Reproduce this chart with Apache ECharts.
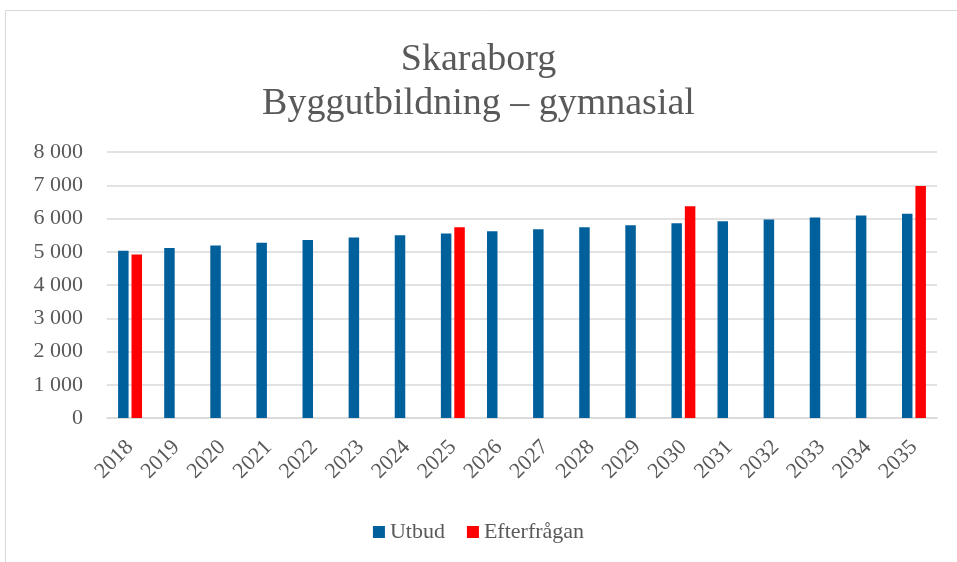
<!DOCTYPE html>
<html>
<head>
<meta charset="utf-8">
<script src="https://cdn.jsdelivr.net/npm/echarts@6/dist/echarts.min.js"></script>
<style>
  html, body { margin: 0; padding: 0; background: #fff; }
  #chart { width: 957px; height: 562px; }
</style>
</head>
<body>
<div id="chart"></div>
<script>
// data
const years = ['2018', '2019', '2020', '2021', '2022', '2023', '2024', '2025', '2026',
  '2027', '2028', '2029', '2030', '2031', '2032', '2033', '2034', '2035']
const utbud = [5030, 5110, 5190, 5270, 5350, 5430, 5500, 5550, 5620,
  5680, 5740, 5800, 5860, 5920, 5970, 6030, 6090, 6140]
const efterfragan = [4920, null, null, null, null, null, null, 5740, null,
  null, null, null, 6370, null, null, null, null, 6980]
const yTicks = [0, 1000, 2000, 3000, 4000, 5000, 6000, 7000, 8000]

const font = 'Liberation Serif'
const chart = echarts.init(document.getElementById('chart'))

chart.setOption({
  animation: false,
  backgroundColor: '#fff',
  textStyle: { fontFamily: font },
  graphic: [{
    type: 'rect',
    shape: { x: 5.5, y: 10.5, width: 1000, height: 600 },
    style: { fill: 'none', stroke: '#d9d9d9', lineWidth: 1 },
    silent: true
  }],
  title: {
    text: 'Skaraborg\nByggutbildning – gymnasial',
    left: 'center',
    top: 33,
    textStyle: { fontFamily: font, fontSize: 38, fontWeight: 'normal', color: '#595959', lineHeight: 44 }
  },
  legend: {
    bottom: 14,
    left: 'center',
    itemWidth: 12,
    itemHeight: 12,
    itemGap: 22,
    icon: 'rect',
    textStyle: { fontFamily: font, fontSize: 22, color: '#595959' },
    data: ['Utbud', 'Efterfrågan']
  },
  grid: { left: 107, right: 20, top: 152, bottom: 144, containLabel: false },
  xAxis: {
    type: 'category',
    data: years,
    axisLine: { lineStyle: { color: '#d9d9d9', width: 1.5 } },
    axisTick: { show: false },
    axisLabel: { rotate: 45, fontFamily: font, fontSize: 22, color: '#595959', margin: 26, interval: 0 }
  },
  yAxis: {
    type: 'value',
    min: yTicks[0],
    max: yTicks[yTicks.length - 1],
    interval: 1000,
    axisLine: { show: false },
    axisTick: { show: false },
    splitLine: { lineStyle: { color: '#d9d9d9', width: 1.5 } },
    axisLabel: {
      fontFamily: font, fontSize: 22, color: '#595959', margin: 24,
      formatter: v => yTicks.includes(v) ? String(v).replace(/\B(?=(\d{3})+(?!\d))/g, ' ') : ''
    }
  },
  series: [
    {
      name: 'Utbud',
      type: 'bar',
      data: utbud,
      barWidth: 10.5,
      barGap: '28%',
      itemStyle: { color: '#00609c' }
    },
    {
      name: 'Efterfrågan',
      type: 'bar',
      data: efterfragan,
      barWidth: 10.5,
      itemStyle: { color: '#ff0000' }
    }
  ]
})
</script>
</body>
</html>
